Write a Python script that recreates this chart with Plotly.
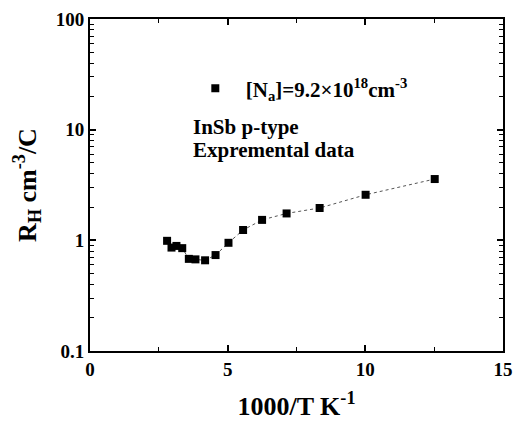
import plotly.graph_objects as go

x_vals = [2.80, 2.96, 3.14, 3.35, 3.59, 3.83, 4.18, 4.56, 5.03, 5.56, 6.25, 7.14, 8.34, 10.01, 12.52]
rh_vals = [0.99, 0.86, 0.89, 0.85, 0.68, 0.673, 0.66, 0.736, 0.95, 1.24, 1.53, 1.75, 1.96, 2.58, 3.58]
series_name = "[N<sub>a</sub>]=9.2×10<sup>18</sup>cm<sup>-3</sup>"
notes = ["InSb p-type", "Expremental data"]
x_ticks = [0, 5, 10, 15]
y_ticks = [0.1, 1, 10, 100]
y_ticklabels = ["0.1", "1", "10", "100"]

FONT = "Liberation Serif, Times New Roman, serif"

y_minor = [m * d for d in (0.1, 1, 10) for m in range(2, 10)]

fig = go.Figure()
fig.add_trace(go.Scatter(
    x=x_vals, y=rh_vals, mode="lines", showlegend=False,
    line=dict(color="#555555", width=1, dash="dot"), hoverinfo="skip",
))
fig.add_trace(go.Scatter(
    x=x_vals, y=rh_vals, mode="markers", name="\u00a0\u00a0<b>" + series_name + "</b>",
    marker=dict(symbol="square", size=8, color="black"),
))

for txt, yy in zip(notes, [0.675, 0.605]):
    fig.add_annotation(x=0.245, y=yy, xref="paper", yref="paper", xanchor="left", yanchor="middle",
                       text="<b>" + txt + "</b>", showarrow=False,
                       font=dict(family=FONT, size=21, color="black"))

axis_common = dict(
    showline=True, linecolor="black", linewidth=2, mirror="ticks",
    ticks="inside", ticklen=6, tickwidth=1.5, tickcolor="black",
    showgrid=False, zeroline=False, automargin=False,
    tickfont=dict(family=FONT, size=19, color="black"),
)

fig.update_xaxes(**axis_common, range=[0, 15], tickvals=x_ticks,
                 ticktext=["<b>%d</b>" % v for v in x_ticks],
                 minor=dict(ticks="inside", ticklen=4, tickwidth=1, tickcolor="black", dtick=2.5, showgrid=False),
                 title=dict(text="<b>1000/T K<sup>-1</sup></b>", font=dict(family=FONT, size=26, color="black"), standoff=22))
fig.update_yaxes(**axis_common, type="log", range=[-1, 2], tickvals=y_ticks,
                 ticktext=["<b>%s</b>" % t for t in y_ticklabels],
                 minor=dict(ticks="inside", ticklen=4, tickwidth=1, tickcolor="black", tickvals=y_minor, showgrid=False),
                 title=dict(text="<b>R<sub>H</sub> cm<sup>-3</sup>/C</b>", font=dict(family=FONT, size=26, color="black"), standoff=12))

fig.update_layout(
    width=519, height=421,
    margin=dict(l=90, r=16, t=19, b=70),
    paper_bgcolor="white", plot_bgcolor="white",
    font=dict(family=FONT, color="black"),
    showlegend=True,
    legend=dict(x=0.255, y=0.79, xanchor="left", yanchor="middle", bgcolor="rgba(0,0,0,0)",
                font=dict(family=FONT, size=21, color="black"), itemwidth=30),
)

fig.write_html("out.html")
